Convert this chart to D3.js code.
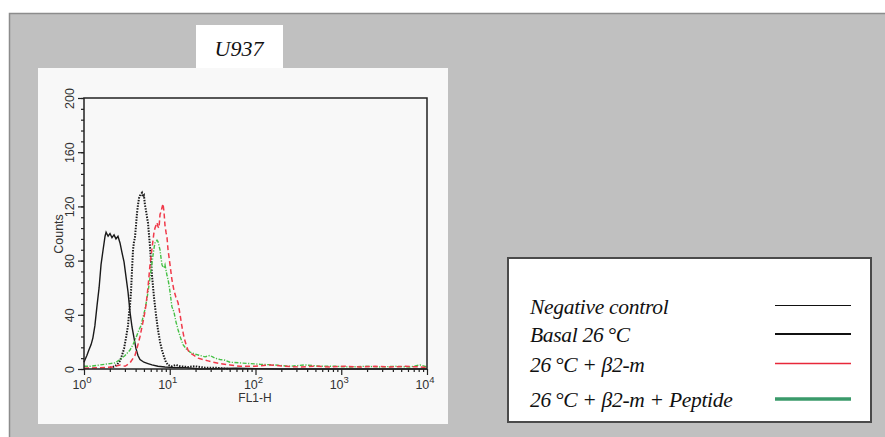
<!DOCTYPE html>
<html>
<head>
<meta charset="utf-8">
<script src="https://cdn.jsdelivr.net/npm/d3@7"></script>
<style>
  body { margin: 0; background: #fff; }
  svg { display: block; }
</style>
</head>
<body>
<svg id="chart"></svg>
<script>
// FL1-H value, counts
const negativeControl = [
  [1.00, 5], [1.03, 7], [1.08, 10], [1.14, 14], [1.21, 18], [1.27, 23], [1.34, 32], [1.42, 47],
  [1.50, 60], [1.58, 77], [1.67, 88], [1.76, 98], [1.81, 101], [1.91, 98], [2.01, 100], [2.12, 97],
  [2.24, 99], [2.36, 96], [2.49, 98], [2.63, 93], [2.77, 86], [2.93, 79], [3.09, 68], [3.26, 57],
  [3.44, 42], [3.63, 31], [3.83, 23], [4.04, 15], [4.26, 10], [4.50, 7], [5.0, 5], [5.57, 4],
  [6.21, 3], [7.29, 2], [8.8, 1.5], [11.5, 1], [15.1, 1], [22.5, 0], [60, 0.5], [200, 0],
  [1000, 0], [10000, 0]
];

const basal26 = [
  [2.01, 1], [2.30, 2], [2.49, 4], [2.63, 6], [2.77, 10], [2.93, 15], [3.09, 23], [3.26, 32],
  [3.35, 41], [3.44, 47], [3.54, 58], [3.63, 73], [3.73, 88], [3.83, 94], [3.93, 97], [4.04, 106],
  [4.15, 115], [4.26, 121], [4.38, 126], [4.50, 128], [4.62, 129], [4.74, 130], [4.87, 127], [5.0, 128],
  [5.14, 121], [5.28, 117], [5.43, 112], [5.57, 108], [5.73, 99], [5.89, 90], [6.05, 79], [6.21, 69],
  [6.55, 53], [6.91, 40], [7.29, 29], [7.70, 20], [8.12, 14], [8.57, 9], [9.04, 5], [9.55, 3],
  [10.6, 2], [11.8, 3], [13.2, 2], [16.3, 1.5], [19.7, 2], [25.8, 1], [33.6, 1], [50, 0]
];

const beta2m = [
  [1.0, 0.5], [1.54, 1], [2.18, 1.5], [2.63, 3], [3.01, 2], [3.44, 4.5], [3.93, 10], [4.26, 18],
  [4.50, 24], [4.74, 31], [5.0, 38], [5.28, 47], [5.57, 60], [5.89, 77], [6.21, 89], [6.55, 101],
  [6.73, 104], [6.91, 106], [7.10, 108], [7.29, 105], [7.49, 104], [7.70, 114], [7.91, 116], [8.12, 119],
  [8.34, 122], [8.57, 116], [8.80, 106], [9.04, 101], [9.29, 97], [9.55, 88], [10.07, 77], [10.6, 66],
  [11.2, 58], [11.8, 53], [12.5, 49], [13.2, 40], [13.9, 31], [14.7, 23], [15.5, 18], [16.3, 14],
  [17.2, 12], [19.2, 10], [21.4, 8], [24.4, 7], [28, 6], [31.9, 5], [38.5, 4], [50.4, 3],
  [65.9, 2], [98.6, 2], [146, 3], [220, 2], [330, 1.5], [495, 2], [740, 1.5], [1100, 2],
  [1650, 1.5], [2480, 2], [3700, 1.5], [5550, 2], [8280, 1.5], [10000, 1]
];

const beta2mPeptide = [
  [1.0, 2], [1.18, 2], [1.54, 3], [2.01, 4], [2.30, 4.5], [2.63, 7], [3.01, 10], [3.44, 14],
  [3.73, 18], [4.04, 23], [4.38, 29], [4.62, 32], [4.87, 38], [5.14, 44], [5.43, 52], [5.73, 62],
  [6.05, 73], [6.21, 78], [6.38, 84], [6.55, 89], [6.73, 93], [6.91, 94], [7.10, 95], [7.29, 94],
  [7.49, 91], [7.70, 88], [7.91, 82], [8.12, 77], [8.34, 75], [8.57, 75], [8.80, 77], [9.04, 73],
  [9.29, 69], [9.55, 66], [9.8, 62], [10.07, 57], [10.35, 51], [10.6, 46], [11.2, 42], [11.8, 35],
  [12.5, 29], [13.2, 24], [14.3, 18], [15.5, 15], [17.2, 12.5], [19.7, 11], [22.5, 10], [25.8, 9],
  [29.5, 10], [33.6, 8], [38.5, 7], [44, 6.5], [50.4, 5], [65.9, 4.5], [86.3, 4], [113, 3.5],
  [169, 3], [250, 2], [378, 3], [565, 2], [850, 2], [1270, 1.5], [1900, 2], [2830, 1.5],
  [4240, 2], [6340, 1.5], [8280, 3], [10000, 1.5]
];

const yMajorTicks = [0, 40, 80, 120, 160, 200];
const xDecades = [0, 1, 2, 3, 4];
const legendLabels = ["Negative control", "Basal 26\u2009°C", "26\u2009°C + β2-m", "26\u2009°C + β2-m + Peptide"];

const svg = d3.select("#chart")
    .attr("width", 885)
    .attr("height", 437);

// grey panel + white boxes
svg.append("rect")
    .attr("x", 9.5).attr("y", 13.5)
    .attr("width", 885).attr("height", 430)
    .attr("fill", "#c0c0c0")
    .attr("stroke", "#8c8c8c")
    .attr("stroke-width", 1.5);

svg.append("rect")
    .attr("x", 38).attr("y", 68)
    .attr("width", 410).attr("height", 356)
    .attr("fill", "#f8f8f8");

svg.append("rect")
    .attr("x", 196).attr("y", 25)
    .attr("width", 87).attr("height", 43)
    .attr("fill", "#ffffff");

svg.append("text")
    .attr("x", 239).attr("y", 56)
    .attr("text-anchor", "middle")
    .style("font-family", "'Liberation Serif', 'Times New Roman', serif")
    .style("font-style", "italic")
    .style("font-size", "22px")
    .style("fill", "#111")
    .text("U937");

// scales
const x = d3.scaleLog().domain([1, 10000]).range([84, 427]);
const y = d3.scaleLinear().domain([0, 200]).range([369, 98]);

const line = d3.line()
    .x(d => x(d[0]))
    .y(d => y(d[1]));

const plot = svg.append("g");

// histograms
plot.append("path")
    .datum(negativeControl)
    .attr("d", line)
    .attr("fill", "none")
    .attr("stroke", "#1a1a1a")
    .attr("stroke-width", 1.4);

plot.append("path")
    .datum(basal26)
    .attr("d", line)
    .attr("fill", "none")
    .attr("stroke", "#1a1a1a")
    .attr("stroke-width", 2)
    .attr("stroke-dasharray", "1.5,1.3");

plot.append("path")
    .datum(beta2mPeptide)
    .attr("d", line)
    .attr("fill", "none")
    .attr("stroke", "#46c046")
    .attr("stroke-width", 1.4)
    .attr("stroke-dasharray", "4,1.5,1.2,1.5");

plot.append("path")
    .datum(beta2m)
    .attr("d", line)
    .attr("fill", "none")
    .attr("stroke", "#f03a4a")
    .attr("stroke-width", 1.5)
    .attr("stroke-dasharray", "5,3");

// frame
svg.append("rect")
    .attr("x", 84).attr("y", 98)
    .attr("width", 343).attr("height", 271)
    .attr("fill", "none")
    .attr("stroke", "#222")
    .attr("stroke-width", 1.5);

// y axis
svg.append("g")
    .attr("transform", "translate(84,0)")
    .call(d3.axisLeft(y).tickValues(d3.range(0, 201, 8)).tickSize(3).tickFormat(""))
    .call(g => g.select(".domain").remove())
    .selectAll("line").attr("stroke", "#222").attr("stroke-width", 1.2);

const yAxis = svg.append("g")
    .attr("transform", "translate(84,0)")
    .call(d3.axisLeft(y).tickValues(yMajorTicks).tickSize(6).tickFormat(d3.format("d")))
    .call(g => g.select(".domain").remove());

yAxis.selectAll("line").attr("stroke", "#222").attr("stroke-width", 1.2);
yAxis.selectAll("text")
    .attr("x", null).attr("dy", null)
    .attr("transform", "translate(-10,0) rotate(-90)")
    .attr("text-anchor", "middle")
    .style("font-family", "'Liberation Sans', Arial, sans-serif")
    .style("font-size", "12.5px")
    .style("fill", "#333");

svg.append("text")
    .attr("transform", "translate(63,234) rotate(-90)")
    .attr("text-anchor", "middle")
    .style("font-family", "'Liberation Sans', Arial, sans-serif")
    .style("font-size", "12.5px")
    .style("fill", "#333")
    .text("Counts");

// x axis (log)
const minorX = [];
xDecades.slice(0, -1).forEach(e => {
    for (let k = 2; k <= 9; k++) minorX.push(k * Math.pow(10, e));
});

svg.append("g")
    .attr("transform", "translate(0,369)")
    .call(d3.axisBottom(x).tickValues(minorX).tickSize(3).tickFormat(""))
    .call(g => g.select(".domain").remove())
    .selectAll("line").attr("stroke", "#222").attr("stroke-width", 1.2);

const xAxis = svg.append("g")
    .attr("transform", "translate(0,369)")
    .call(d3.axisBottom(x).tickValues(xDecades.map(e => Math.pow(10, e))).tickSize(6).tickFormat(""))
    .call(g => g.select(".domain").remove());

xAxis.selectAll("line").attr("stroke", "#222").attr("stroke-width", 1.2);

const xLabels = svg.append("g")
    .style("font-family", "'Liberation Sans', Arial, sans-serif")
    .style("fill", "#333");

xDecades.forEach(e => {
    const t = xLabels.append("text")
        .attr("x", x(Math.pow(10, e)) - 2)
        .attr("y", 389)
        .attr("text-anchor", "middle")
        .style("font-size", "12.5px");
    t.append("tspan").text("10");
    t.append("tspan")
        .attr("dy", -6)
        .style("font-size", "9.5px")
        .text(e);
});

svg.append("text")
    .attr("x", 255).attr("y", 402)
    .attr("text-anchor", "middle")
    .style("font-family", "'Liberation Sans', Arial, sans-serif")
    .style("font-size", "12px")
    .style("fill", "#333")
    .text("FL1-H");

// legend
const legend = svg.append("g");

legend.append("rect")
    .attr("x", 508).attr("y", 258)
    .attr("width", 363).attr("height", 164)
    .attr("fill", "#ffffff")
    .attr("stroke", "#4a4a4a")
    .attr("stroke-width", 2);

const legendStyles = [
    { color: "#111", width: 1 },
    { color: "#111", width: 2.2 },
    { color: "#e8283a", width: 1.6 },
    { color: "#3a9a6a", width: 3.5 }
];
const legendY = [305.5, 334, 363.5, 399];

legendLabels.forEach((label, i) => {
    legend.append("text")
        .attr("x", 530)
        .attr("y", Math.round(legendY[i]) + 8)
        .style("font-family", "'Liberation Serif', 'Times New Roman', serif")
        .style("font-style", "italic")
        .style("font-size", "21.5px")
        .style("letter-spacing", "-0.3px")
        .style("fill", "#111")
        .text(label);

    legend.append("line")
        .attr("x1", 775).attr("x2", 851)
        .attr("y1", legendY[i]).attr("y2", legendY[i])
        .attr("stroke", legendStyles[i].color)
        .attr("stroke-width", legendStyles[i].width);
});
</script>
</body>
</html>
